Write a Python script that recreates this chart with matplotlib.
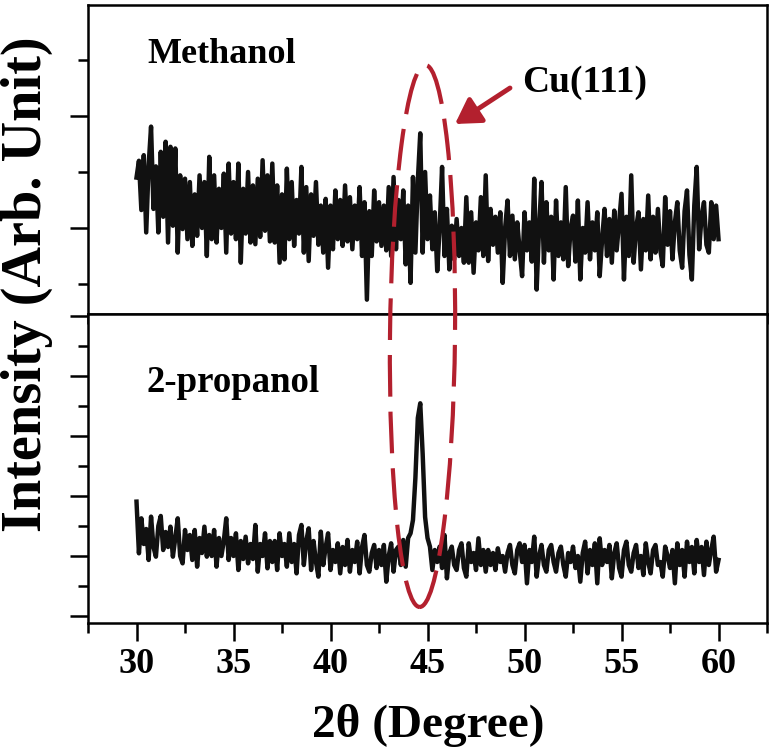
import numpy as np
import matplotlib
matplotlib.use('Agg')
from matplotlib import pyplot as plt
from matplotlib.ticker import MultipleLocator
from matplotlib.patches import Ellipse, FancyArrowPatch

plt.rcParams['font.family'] = ['Liberation Serif', 'DejaVu Serif']
plt.rcParams['font.weight'] = 'bold'

# 2theta grid (deg) and intensities
two_theta = np.linspace(30, 60, 241)

methanol = [
    1450, 1600, 1160, 1650, 960, 1560, 1905, 1170,   # 30
    1550, 960, 1680, 1100, 1770, 870, 1725, 1020,    # 31
    1710, 780, 1470, 990, 1440, 900, 1410, 840,      # 32
    1300, 930, 1470, 1000, 1410, 750, 1635, 900,     # 33
    1470, 870, 1350, 1000, 1485, 780, 1575, 950,     # 34
    1410, 900, 1575, 690, 1350, 950, 1500, 870,      # 35
    1380, 855, 1440, 920, 1605, 975, 1470, 880,      # 36
    1575, 870, 1380, 690, 1300, 720, 1530, 900,      # 37
    1410, 840, 1250, 950, 1545, 780, 1365, 705,      # 38
    1300, 930, 1410, 850, 1200, 780, 1260, 645,      # 39
    1200, 810, 1335, 900, 1250, 840, 1380, 880,      # 40
    1275, 810, 1200, 900, 1365, 750, 1230, 360,      # 41
    1150, 750, 1335, 880, 1230, 840, 1200, 800,      # 42
    1365, 750, 1455, 810, 1250, 900, 1335, 675,      # 43
    1200, 510, 1455, 780, 1420, 1845, 780, 1500,     # 44
    900, 1290, 810, 1140, 615, 1000, 1545, 750,      # 45
    1170, 630, 1020, 720, 1080, 750, 1000, 690,      # 46
    1275, 690, 1140, 600, 1050, 800, 1275, 750,      # 47
    1470, 705, 1170, 850, 1100, 780, 1140, 510,      # 48
    1000, 1245, 750, 1110, 720, 1050, 800, 570,      # 49
    1140, 800, 1050, 700, 1440, 450, 1000, 1410,     # 50
    690, 1230, 800, 1100, 540, 1245, 750, 1050,      # 51
    720, 1365, 660, 1000, 1110, 700, 1245, 540,      # 52
    1000, 780, 1230, 720, 1050, 800, 1140, 570,      # 53
    900, 1170, 750, 1080, 690, 1155, 800, 1050,      # 54
    1305, 540, 1100, 750, 1470, 690, 1000, 1140,     # 55
    630, 1080, 800, 1290, 720, 1100, 780, 1170,      # 56
    800, 660, 1275, 850, 1150, 720, 1050, 1230,      # 57
    800, 645, 1150, 1335, 760, 540, 1200, 1545,      # 58
    810, 1100, 1230, 850, 780, 1230, 900, 1200,      # 59
    900]

propanol = [
    2906, 2045, 2628, 2200, 2450, 1934, 2656, 2150,  # 30
    1989, 2500, 2667, 2100, 2400, 2150, 2489, 1989,  # 31
    2300, 2628, 2000, 1878, 2433, 2100, 2350, 1934,  # 32
    2433, 1822, 2300, 2050, 2489, 1989, 2350, 2000,  # 33
    2433, 1822, 2300, 2000, 2250, 2628, 1934, 2300,  # 34
    2000, 2378, 1767, 2250, 1950, 2322, 1878, 2200,  # 35
    1950, 2517, 1739, 2200, 2000, 2378, 1795, 2250,  # 36
    1900, 2250, 1767, 2378, 2000, 2200, 1822, 2378,  # 37
    1900, 2200, 1711, 2350, 2517, 1850, 2250, 2461,  # 38
    1767, 2250, 1900, 1656, 2406, 1850, 2150, 2378,  # 39
    1767, 2100, 1900, 2211, 1711, 2150, 1850, 2267,  # 40
    1739, 2100, 1900, 2239, 1711, 2150, 2350, 1850,  # 41
    1739, 2050, 2184, 1800, 2100, 1850, 2184, 1572,  # 42
    2000, 2211, 1739, 2100, 2156, 1850, 2267, 1822,  # 43
    2300, 2378, 2600, 3300, 4300, 4545, 3700, 2650,  # 44
    2300, 2156, 1767, 2100, 1900, 2156, 1800, 2350,  # 45
    1628, 2050, 2156, 1850, 1767, 2100, 2211, 1800,  # 46
    1656, 2211, 1900, 2050, 1767, 2295, 1850, 2100,  # 47
    1739, 2100, 1850, 2050, 1767, 2128, 1900, 2000,  # 48
    1739, 2050, 2184, 1850, 1711, 2100, 2211, 1900,  # 49
    2184, 1545, 2100, 1900, 2322, 1656, 2000, 2184,  # 50
    1850, 1739, 2100, 2184, 1900, 1739, 2050, 2156,  # 51
    1850, 1656, 2050, 1900, 2156, 1800, 2000, 1572,  # 52
    2050, 2239, 1711, 2100, 1850, 2211, 1545, 2295,  # 53
    1850, 2100, 1900, 2184, 1628, 2050, 2211, 1800,  # 54
    1656, 2100, 2239, 1850, 1739, 2050, 2184, 1800,  # 55
    2000, 1683, 2211, 1900, 1711, 2100, 2184, 1850,  # 56
    1900, 1656, 2156, 2000, 1800, 2100, 1545, 2211,  # 57
    1850, 2100, 1656, 2239, 1900, 2150, 1711, 2267,  # 58
    1900, 2150, 1683, 2239, 1850, 2100, 2322, 1739,  # 59
    1934]

x_ticks = [30, 35, 40, 45, 50, 55, 60]
red = '#B3202E'

fig = plt.figure(figsize=(7.74, 7.53), dpi=100)
ax1 = fig.add_axes([0.1137, 0.583, 0.8773, 0.4104])
ax2 = fig.add_axes([0.1137, 0.1726, 0.8773, 0.4104], sharex=ax1)

ax1.plot(two_theta, methanol, color='#111111', lw=3.2)
ax2.plot(two_theta, propanol, color='#111111', lw=3.2)

ax1.set_ylim(232, 2991)
ax2.set_ylim(883, 6033)
ax2.set_xlim(27.5, 62.5)
ax2.set_xticks(x_ticks)
ax2.xaxis.set_minor_locator(MultipleLocator(2.5))

for ax in (ax1, ax2):
    ax.yaxis.set_major_locator(MultipleLocator(1000))
    ax.yaxis.set_minor_locator(MultipleLocator(500))
    for sp in ax.spines.values():
        sp.set_linewidth(1.8)
    ax.tick_params(which='both', direction='out', width=1.8, top=False, right=False,
                   labelleft=False)
    ax.tick_params(which='major', length=13)
    ax.tick_params(which='minor', length=7)

ax1.tick_params(labelbottom=False)
ax2.tick_params(axis='x', labelsize=26, pad=5)
for lab in ax2.get_xticklabels():
    lab.set_fontweight('bold')

fig.text(0.5527, 0.0213, '2θ (Degree)', fontsize=34, fontweight='bold',
         ha='center', va='baseline')
fig.text(0.035, 0.623, 'Intensity (Arb. Unit)', fontsize=40.5, fontweight='bold',
         rotation=90, ha='center', va='center')

fig.text(147 / 774, 1 - 63 / 753, 'Methanol', fontsize=26, fontweight='bold', va='baseline')
fig.text(146 / 774, 1 - 392 / 753, '2-propanol', fontsize=26.5, fontweight='bold', va='baseline')
fig.text(522 / 774, 1 - 92 / 753, 'Cu(111)', fontsize=27, fontweight='bold', va='baseline')

# dashed ellipse around the Cu(111) peak and the pointer arrow (inches)
ell = Ellipse((4.225, 4.17), 0.65, 5.42, angle=-0.6, fill=False, edgecolor=red,
              lw=3, linestyle=(0, (10, 3.6)), transform=fig.dpi_scale_trans, zorder=10)
fig.add_artist(ell)
arr = FancyArrowPatch((5.10, 6.65), (4.55, 6.29), arrowstyle='-|>,head_length=0.75,head_width=0.45',
                      mutation_scale=20, color=red, lw=3.5, shrinkA=0, shrinkB=0,
                      transform=fig.dpi_scale_trans, zorder=10)
fig.add_artist(arr)

fig.savefig('out.png', dpi=100)
